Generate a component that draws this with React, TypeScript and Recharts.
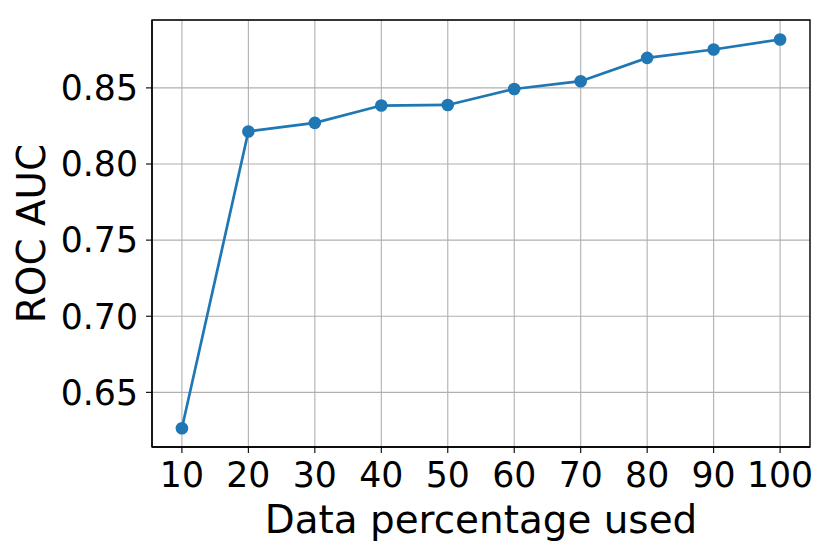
import React from 'react';
import { LineChart, Line, XAxis, YAxis, CartesianGrid, ReferenceArea } from 'recharts';

const percentages = [10, 20, 30, 40, 50, 60, 70, 80, 90, 100];
const rocAuc = [0.6264, 0.8214, 0.827, 0.8384, 0.8388, 0.8493, 0.8544, 0.8697, 0.8752, 0.8818];
const xTicks = [10, 20, 30, 40, 50, 60, 70, 80, 90, 100];
const yTicks = [0.65, 0.7, 0.75, 0.8, 0.85];
const xDomain = [5.5, 104.5];
const yDomain = [0.6141, 0.8946];

const data = percentages.map((p, i) => ({ p, auc: rocAuc[i] }));

const FONT = 'DejaVu Sans';

const YLabel = (props: any) => {
  const vb = props.viewBox || {};
  const cy = (vb.y ?? 20) + (vb.height ?? 427) / 2;
  const x = 45;
  return (
    <text
      x={x}
      y={cy}
      transform={`rotate(-90, ${x}, ${cy})`}
      textAnchor="middle"
      fontFamily={FONT}
      fontSize={38.9}
      fill="#000"
    >
      ROC AUC
    </text>
  );
};

const XLabel = (props: any) => {
  const vb = props.viewBox || {};
  const cx = (vb.x ?? 152) + (vb.width ?? 658) / 2;
  return (
    <text x={cx} y={533} textAnchor="middle" fontFamily={FONT} fontSize={38.9} fill="#000">
      Data percentage used
    </text>
  );
};

export default function App() {
  return (
    <div style={{ position: 'absolute', left: 0, top: 0, width: 831, height: 556, background: '#fff' }}>
      <LineChart width={831} height={556} data={data} margin={{ top: 20, right: 21, left: 0, bottom: 0 }}>
        <CartesianGrid stroke="#b0b0b0" strokeWidth={1.1} />
        <XAxis
          dataKey="p"
          type="number"
          domain={xDomain}
          ticks={xTicks}
          allowDataOverflow
          height={109}
          tickSize={6}
          tickMargin={9}
          tickLine={{ stroke: '#000', strokeWidth: 1.1 }}
          axisLine={{ stroke: '#000', strokeWidth: 1.3 }}
          tick={{ fill: '#000', fontFamily: FONT, fontSize: 34.7 }}
          interval={0}
          label={<XLabel />}
        />
        <YAxis
          type="number"
          domain={yDomain}
          ticks={yTicks}
          allowDataOverflow
          width={152}
          tickSize={6}
          tickMargin={8}
          tickFormatter={(v: number) => v.toFixed(2)}
          tickLine={{ stroke: '#000', strokeWidth: 1.1 }}
          axisLine={{ stroke: '#000', strokeWidth: 1.3 }}
          tick={{ fill: '#000', fontFamily: FONT, fontSize: 34.7 }}
          interval={0}
          label={<YLabel />}
        />
        <ReferenceArea
          x1={xDomain[0]}
          x2={xDomain[1]}
          y1={yDomain[0]}
          y2={yDomain[1]}
          fill="none"
          stroke="#000"
          strokeWidth={1.3}
          fillOpacity={0}
          ifOverflow="visible"
        />
        <Line
          type="linear"
          dataKey="auc"
          stroke="#1f77b4"
          strokeWidth={2.7}
          dot={{ r: 6.3, fill: '#1f77b4', stroke: '#1f77b4', strokeWidth: 0 }}
          activeDot={false}
          isAnimationActive={false}
        />
      </LineChart>
    </div>
  );
}
